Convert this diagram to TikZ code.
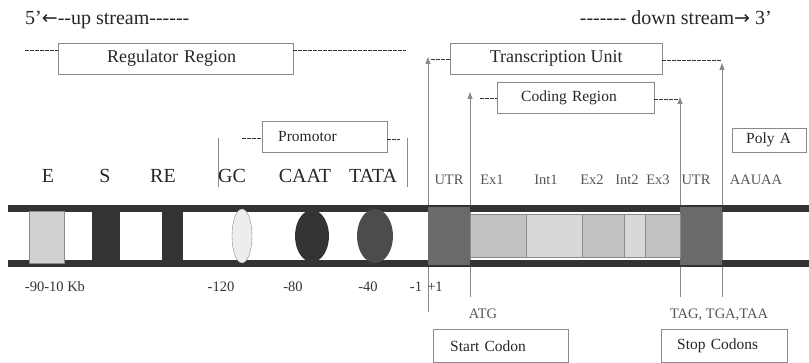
\documentclass[tikz,border=0pt]{standalone}
\usepackage{fontspec}
\setmainfont{Liberation Serif}[Ligatures=TeXOff]
\newfontfamily\arrowfont{DejaVu Sans}
\usetikzlibrary{arrows.meta}
\definecolor{band}{HTML}{333333}
\definecolor{utrgray}{HTML}{6A6A6A}
\definecolor{exon}{HTML}{C2C2C2}
\definecolor{intron}{HTML}{D8D8D8}
\definecolor{linegray}{HTML}{8A8A8A}
\definecolor{txtgray}{HTML}{555555}
\tikzset{
  lbox/.style = {draw=linegray, rectangle, inner ysep=0pt, minimum height=31pt, align=left, anchor=north west, text=black!85, font=\fontsize{15.5}{17}\selectfont},
  dsh/.style = {draw=black!80, dash pattern=on 3.5pt off 1.5pt, line width=1pt},
  arr/.style = {draw=linegray, line width=0.9pt, -{Triangle[length=7pt,width=5pt]}},
  big/.style = {font=\fontsize{20}{22}\selectfont, text=black!85, anchor=base, inner sep=0pt},
  small/.style = {font=\fontsize{14.5}{16}\selectfont, text=txtgray, anchor=base, inner sep=0pt},
  num/.style = {small, text=black!80},
}
\begin{document}
\begin{tikzpicture}[x=1pt,y=-1pt]
\useasboundingbox (0,0) rectangle (809,363);
% direction
\node[big, anchor=base west] (up) at (25,25) {5’{\arrowfont\fontsize{19}{20}\selectfont ←}--up stream------};
\node[big, anchor=base east] (down) at (772,25) {------- down stream{\arrowfont\fontsize{19}{20}\selectfont →} 3’};
% region boxes
\node[lbox, font=\fontsize{18}{20}\selectfont, inner xsep=49pt, text width=137pt] (reg) at (58,43) {Regulator Region};
\node[lbox, font=\fontsize{18}{20}\selectfont, inner xsep=0pt, minimum width=212pt, align=center] (tu) at (450,43) {Transcription Unit};
\node[lbox, inner xsep=24pt, text width=109pt] (cod) at (497,82) {Coding Region};
\node[lbox, inner xsep=16pt, text width=93pt] (prom) at (262,121) {Promotor};
\node[lbox, minimum height=24pt, inner xsep=14pt, text width=46pt] (polya) at (732,128) {Poly A};
\node[lbox, minimum height=33pt, inner xsep=17pt, text width=101pt] (start) at (433,329) {Start Codon};
\node[lbox, minimum height=33pt, inner xsep=16pt, text width=94pt] (stop) at (661,329) {Stop Codons};
% dashed extensions
\coordinate (regL) at (25,51);   \coordinate (regR) at (406,51);
\coordinate (tuL) at (431,60);   \coordinate (tuR) at (722,61);
\coordinate (codL) at (480,99);  \coordinate (codR) at (680,100);
\coordinate (promL) at (242,139); \coordinate (promR) at (400,140);
\draw[dsh] (regL) -- (reg.west |- regL);
\draw[dsh] (reg.east |- regR) -- (regR);
\draw[dsh] (tuL) -- (tu.west |- tuL);
\draw[dsh] (tu.east |- tuR) -- (tuR);
\draw[dsh] (codL) -- (cod.west |- codL);
\draw[dsh] (cod.east |- codR) -- (codR);
\draw[dsh] (promL) -- (prom.west |- promL);
\draw[dsh] (prom.east |- promR) -- (promR);
% boundary markers
\coordinate (tss) at (428,312); \coordinate (tssTop) at (428,57);
\coordinate (atg) at (470,297); \coordinate (atgTop) at (470,92);
\coordinate (stp) at (680,297); \coordinate (stpTop) at (680,97);
\coordinate (pa) at (722,297);  \coordinate (paTop) at (722,63);
\draw[arr] (tss) -- (tssTop);
\draw[arr] (atg) -- (atgTop);
\draw[arr] (stp) -- (stpTop);
\draw[arr] (pa) -- (paTop);
\draw[linegray, line width=0.9pt] (218,138) -- (218,187);
\draw[linegray, line width=0.9pt] (407,138) -- (407,187);
% element labels
\node[big] (lE) at (48,183) {E};
\node[big] (lS) at (105,183) {S};
\node[big] (lRE) at (163,183) {RE};
\node[big] (lGC) at (232,183) {GC};
\node[big] (lCAAT) at (305,183) {CAAT};
\node[big] (lTATA) at (373,183) {TATA};
\node[small] (lUtr) at (449,185) {UTR};
\node[small] (lEx1) at (492,185) {Ex1};
\node[small] (lInt1) at (546,185) {Int1};
\node[small] (lEx2) at (592,185) {Ex2};
\node[small] (lInt2) at (627,185) {Int2};
\node[small] (lEx3) at (658,185) {Ex3};
\node[small] (lUtrB) at (696,185) {UTR};
\node[small] (lAauaa) at (756,185) {AAUAA};
% DNA strand
\fill[band] (8,205) rectangle (809,212);
\fill[band] (8,260) rectangle (809,267);
\filldraw[fill=black!18, draw=linegray] (29,211) rectangle (64,263);
\fill[band] (92,211) rectangle (120,262);
\fill[band] (162,211) rectangle (183,262);
\filldraw[fill=black!7, draw=linegray] (242,236) ellipse [x radius=10pt, y radius=27pt];
\fill[band] (312,236) ellipse [x radius=17pt, y radius=26pt];
\fill[black!70] (375,236) ellipse [x radius=18pt, y radius=27pt];
\fill[utrgray] (428,207) rectangle (470,265);
\fill[utrgray] (680,207) rectangle (722,265);
\foreach \a/\b/\c in {470/526/exon, 526/582/intron, 582/624/exon, 624/645/intron, 645/680/exon}
  \filldraw[fill=\c, draw=linegray] (\a,214) rectangle (\b,257);
% positions
\node[num] (p1) at (55,292) {-90-10 Kb};
\node[num] (p2) at (221,292) {-120};
\node[num] (p3) at (293,292) {-80};
\node[num] (p4) at (368,292) {-40};
\node[num] (p5) at (416,292) {-1};
\node[num] (p6) at (435,292) {+1};
\node[small] (cATG) at (483,319) {ATG};
\node[small] (cStop) at (719,319) {TAG, TGA,TAA};
\end{tikzpicture}
\end{document}
